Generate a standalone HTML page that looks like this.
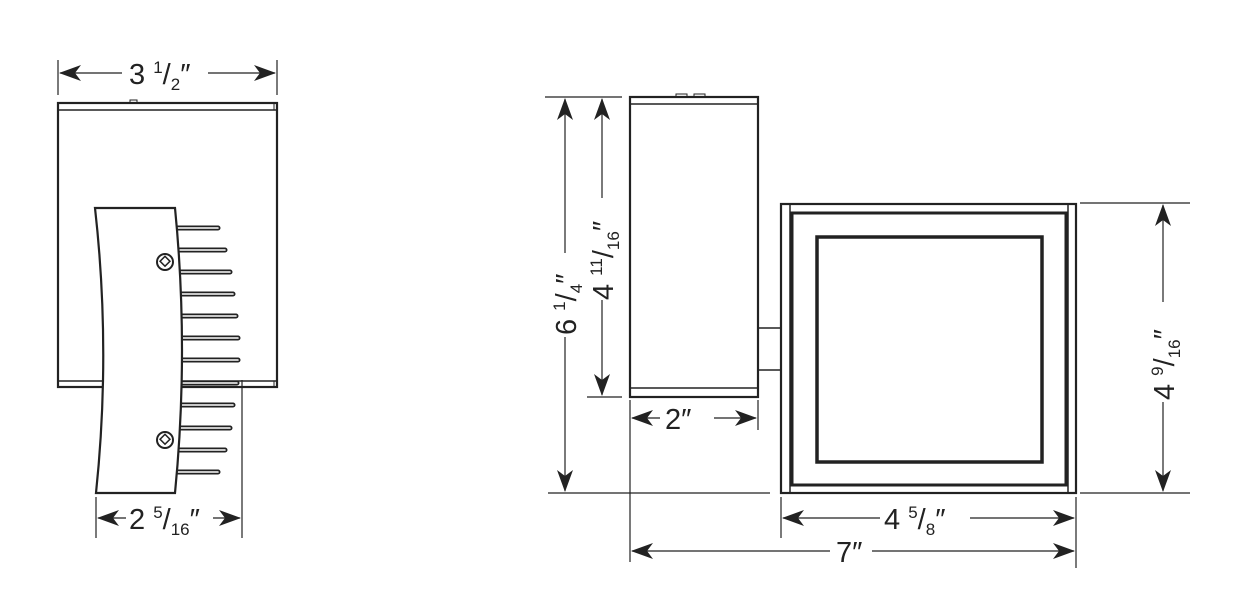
<!DOCTYPE html>
<html><head><meta charset="utf-8"><style>
html,body{margin:0;padding:0;background:#fff;}
svg{display:block;}
text{font-family:"Liberation Sans",sans-serif;fill:#222;}
</style></head><body>
<svg width="1242" height="600" viewBox="0 0 1242 600" xmlns="http://www.w3.org/2000/svg">
<defs>
<path id="ah" d="M0,0 L22,-8 L16,0 L22,8 Z" fill="#222"/>
</defs>
<g stroke="#222" fill="none">
<!-- LEFT VIEW -->
<rect x="58" y="103" width="219" height="284" stroke-width="2.2"/>
<line x1="58" y1="110" x2="277" y2="110" stroke-width="1.5"/>
<line x1="58" y1="381" x2="277" y2="381" stroke-width="1.5"/>
<line x1="274" y1="103" x2="274" y2="110" stroke-width="1"/>
<line x1="274" y1="381" x2="274" y2="387" stroke-width="1"/>
<rect x="130" y="100" width="7" height="3" stroke-width="1"/>
<!-- fins -->
<g id="fins" stroke-linecap="round">
<g stroke-width="5">
<line x1="176" y1="228" x2="218" y2="228"/>
<line x1="178" y1="250" x2="225" y2="250"/>
<line x1="179" y1="272" x2="230" y2="272"/>
<line x1="180" y1="294" x2="233" y2="294"/>
<line x1="181" y1="316" x2="236" y2="316"/>
<line x1="181" y1="338" x2="238" y2="338"/>
<line x1="181" y1="360" x2="238" y2="360"/>
<line x1="181" y1="383" x2="237" y2="383"/>
<line x1="181" y1="405" x2="233" y2="405"/>
<line x1="180" y1="428" x2="230" y2="428"/>
<line x1="178" y1="450" x2="225" y2="450"/>
<line x1="176" y1="472" x2="218" y2="472"/>
</g>
<g stroke="#fff" stroke-width="1.6">
<line x1="176" y1="228" x2="218" y2="228"/>
<line x1="178" y1="250" x2="225" y2="250"/>
<line x1="179" y1="272" x2="230" y2="272"/>
<line x1="180" y1="294" x2="233" y2="294"/>
<line x1="181" y1="316" x2="236" y2="316"/>
<line x1="181" y1="338" x2="238" y2="338"/>
<line x1="181" y1="360" x2="238" y2="360"/>
<line x1="181" y1="383" x2="237" y2="383"/>
<line x1="181" y1="405" x2="233" y2="405"/>
<line x1="180" y1="428" x2="230" y2="428"/>
<line x1="178" y1="450" x2="225" y2="450"/>
<line x1="176" y1="472" x2="218" y2="472"/>
</g>
</g>
<path d="M95,208 L175,208 Q189,350 175,493 L96,493 Q111,350 95,208 Z" fill="#fff" stroke-width="2.2"/>
<circle cx="165" cy="262" r="8" stroke-width="2"/>
<rect x="161" y="258" width="7" height="7" transform="rotate(45 165 262)" stroke-width="1.5"/>
<circle cx="165" cy="440" r="8" stroke-width="2"/>
<rect x="161" y="436" width="7" height="7" transform="rotate(45 165 440)" stroke-width="1.5"/>
<!-- dims left -->
<g stroke-width="1.2">
<line x1="58" y1="60" x2="58" y2="95"/>
<line x1="277" y1="60" x2="277" y2="95"/>
<line x1="60" y1="73" x2="122" y2="73"/>
<line x1="208" y1="73" x2="275" y2="73"/>
<line x1="96" y1="497" x2="96" y2="538"/>
<line x1="242" y1="380" x2="242" y2="538"/>
<line x1="98" y1="518" x2="126" y2="518"/>
<line x1="213" y1="518" x2="240" y2="518"/>
</g>
<!-- RIGHT VIEW -->
<rect x="630" y="97" width="128" height="300" stroke-width="2.2"/>
<line x1="630" y1="104" x2="758" y2="104" stroke-width="1.5"/>
<line x1="630" y1="388" x2="758" y2="388" stroke-width="1.5"/>
<rect x="676" y="94" width="11" height="3" stroke-width="1"/>
<rect x="694" y="94" width="11" height="3" stroke-width="1"/>
<rect x="758" y="328" width="23" height="42" stroke-width="1.5"/>
<rect x="781" y="204" width="295" height="289" stroke-width="2.2"/>
<line x1="790" y1="204" x2="790" y2="493" stroke-width="1.5"/>
<line x1="1068" y1="204" x2="1068" y2="493" stroke-width="1.5"/>
<rect x="792" y="213" width="274" height="272" stroke-width="3"/>
<rect x="817" y="237" width="225" height="225" stroke-width="3.5"/>
<!-- dims right -->
<g stroke-width="1.2">
<line x1="545" y1="97" x2="622" y2="97"/>
<line x1="587" y1="397" x2="622" y2="397"/>
<line x1="548" y1="493" x2="770" y2="493"/>
<line x1="565" y1="99" x2="565" y2="253"/>
<line x1="565" y1="337" x2="565" y2="491"/>
<line x1="602" y1="99" x2="602" y2="198"/>
<line x1="602" y1="300" x2="602" y2="395"/>
<line x1="630" y1="400" x2="630" y2="562"/>
<line x1="758" y1="400" x2="758" y2="430"/>
<line x1="632" y1="418" x2="660" y2="418"/>
<line x1="714" y1="418" x2="756" y2="418"/>
<line x1="781" y1="497" x2="781" y2="538"/>
<line x1="1076" y1="497" x2="1076" y2="568"/>
<line x1="783" y1="518" x2="880" y2="518"/>
<line x1="970" y1="518" x2="1074" y2="518"/>
<line x1="632" y1="551" x2="830" y2="551"/>
<line x1="872" y1="551" x2="1074" y2="551"/>
<line x1="1080" y1="203" x2="1190" y2="203"/>
<line x1="1080" y1="493" x2="1190" y2="493"/>
<line x1="1163" y1="205" x2="1163" y2="302"/>
<line x1="1163" y1="402" x2="1163" y2="491"/>
</g>
</g>
<!-- arrowheads -->
<use href="#ah" transform="translate(59,73)"/>
<use href="#ah" transform="translate(276,73) rotate(180)"/>
<use href="#ah" transform="translate(97,518)"/>
<use href="#ah" transform="translate(241,518) rotate(180)"/>
<use href="#ah" transform="translate(565,98) rotate(90)"/>
<use href="#ah" transform="translate(565,492) rotate(-90)"/>
<use href="#ah" transform="translate(602,98) rotate(90)"/>
<use href="#ah" transform="translate(602,396) rotate(-90)"/>
<use href="#ah" transform="translate(631,418)"/>
<use href="#ah" transform="translate(757,418) rotate(180)"/>
<use href="#ah" transform="translate(782,518)"/>
<use href="#ah" transform="translate(1075,518) rotate(180)"/>
<use href="#ah" transform="translate(631,551)"/>
<use href="#ah" transform="translate(1075,551) rotate(180)"/>
<use href="#ah" transform="translate(1163,204) rotate(90)"/>
<use href="#ah" transform="translate(1163,492) rotate(-90)"/>
<!-- labels -->
<text x="129" y="84" font-size="29">3 <tspan font-size="17" dy="-11">1</tspan><tspan dy="11">/</tspan><tspan font-size="17" dy="6">2</tspan><tspan dy="-6">″</tspan></text>
<text x="129" y="529" font-size="29">2 <tspan font-size="17" dy="-11">5</tspan><tspan dy="11">/</tspan><tspan font-size="17" dy="6">16</tspan><tspan dy="-6">″</tspan></text>
<text x="665" y="429" font-size="29">2″</text>
<text x="884" y="529" font-size="29">4 <tspan font-size="17" dy="-11">5</tspan><tspan dy="11">/</tspan><tspan font-size="17" dy="6">8</tspan><tspan dy="-6">″</tspan></text>
<text x="836" y="562" font-size="29">7″</text>
<text transform="translate(576,335) rotate(-90)" font-size="29">6 <tspan font-size="17" dy="-11">1</tspan><tspan dy="11">/</tspan><tspan font-size="17" dy="6">4</tspan><tspan dy="-6">″</tspan></text>
<text transform="translate(613,300) rotate(-90)" font-size="29">4 <tspan font-size="17" dy="-11">11</tspan><tspan dy="11">/</tspan><tspan font-size="17" dy="6">16</tspan><tspan dy="-6">″</tspan></text>
<text transform="translate(1174,400) rotate(-90)" font-size="29">4 <tspan font-size="17" dy="-11">9</tspan><tspan dy="11">/</tspan><tspan font-size="17" dy="6">16</tspan><tspan dy="-6">″</tspan></text>
</svg>
</body></html>
